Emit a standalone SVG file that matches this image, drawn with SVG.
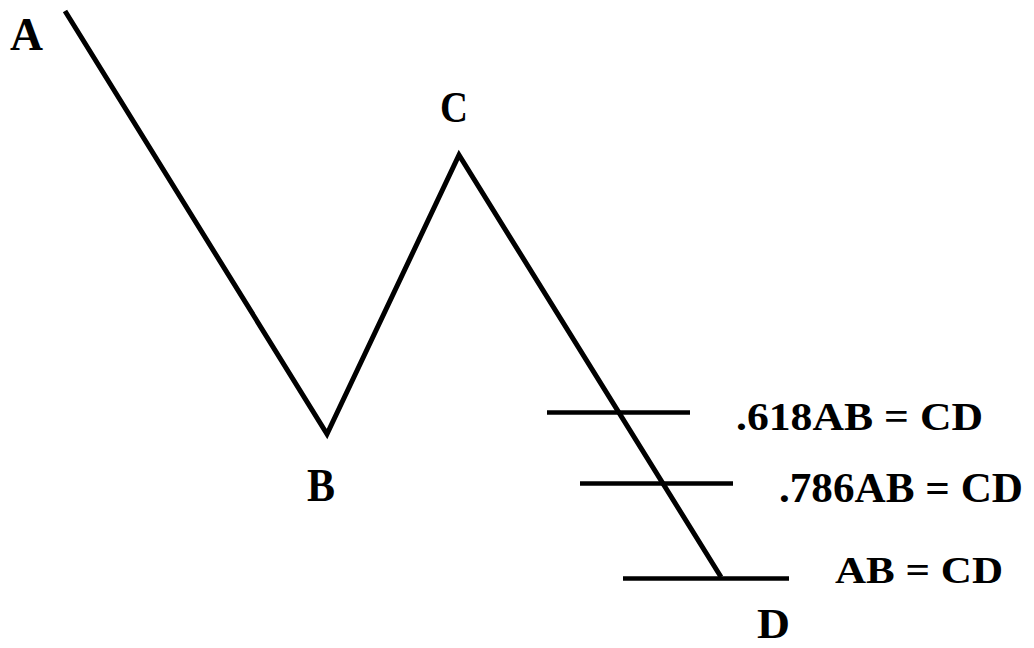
<svg xmlns="http://www.w3.org/2000/svg" width="1034" height="648" viewBox="0 0 1034 648">
<style>
.ln{stroke:#000;stroke-width:5;fill:none;stroke-linejoin:miter}
.h{stroke:#000;stroke-width:4.5;fill:none}
.lbl{font-family:"Liberation Serif","Times New Roman",serif;font-weight:bold;fill:#000}
</style>
<rect width="1034" height="648" fill="#fff"/>
<g id="connectors">
<polyline class="ln" points="65,11 327,434 459,155 721,577"/>
<line class="h" x1="547" y1="412.5" x2="690" y2="412.5"/>
<line class="h" x1="580" y1="483.5" x2="733" y2="483.5"/>
<line class="h" x1="623" y1="578.5" x2="789" y2="578.5"/>
</g>
<g id="A"><text class="lbl" x="10" y="50" font-size="46" textLength="33" lengthAdjust="spacingAndGlyphs">A</text></g>
<g id="B"><text class="lbl" x="307" y="501" font-size="46" textLength="28" lengthAdjust="spacingAndGlyphs">B</text></g>
<g id="C"><text class="lbl" x="440" y="122" font-size="44" textLength="28" lengthAdjust="spacingAndGlyphs">C</text></g>
<g id="D"><text class="lbl" x="757" y="638" font-size="42" textLength="33" lengthAdjust="spacingAndGlyphs">D</text></g>
<g id="r618"><text class="lbl" x="736" y="430" font-size="40" textLength="247" lengthAdjust="spacingAndGlyphs">.618AB = CD</text></g>
<g id="r786"><text class="lbl" x="779" y="502" font-size="42" textLength="244" lengthAdjust="spacingAndGlyphs">.786AB = CD</text></g>
<g id="r100"><text class="lbl" x="835" y="583" font-size="38" textLength="168" lengthAdjust="spacingAndGlyphs">AB = CD</text></g>
</svg>
